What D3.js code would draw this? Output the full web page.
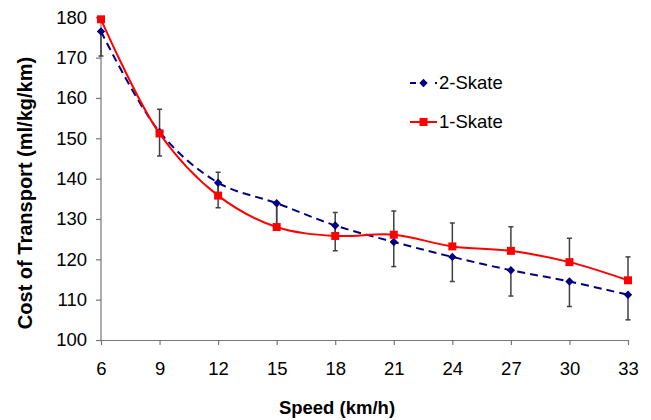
<!DOCTYPE html>
<html>
<head>
<meta charset="utf-8">
<script src="https://cdn.jsdelivr.net/npm/d3@7"></script>
<style>
  body { margin: 0; background: #fff; }
  svg text { font-family: "Liberation Sans", Arial, sans-serif; fill: #000; }
</style>
</head>
<body>
<svg id="chart" width="651" height="420"></svg>
<script>
// speeds (km/h) on the category axis
var speeds = [6, 9, 12, 15, 18, 21, 24, 27, 30, 33];
// cost of transport, ml/kg/km
var twoSkate = [176.5, 151.6, 139.0, 133.9, 128.4, 124.3, 120.6, 117.3, 114.5, 111.2];
var oneSkate = [179.5, 151.2, 135.8, 128.0, 125.8, 126.1, 123.2, 122.1, 119.3, 114.8];
// error bar lengths (2-Skate drawn down, 1-Skate drawn up)
var twoSkateErr = [6.1, 6.0, 6.2, 6.0, 6.3, 6.1, 6.1, 6.4, 6.2, 6.2];
var oneSkateErr = [6.0, 6.0, 5.8, 5.8, 5.8, 5.9, 5.8, 6.0, 5.9, 5.8];
var yTicks = [100, 110, 120, 130, 140, 150, 160, 170, 180];

var svg = d3.select("#chart");

var x = d3.scalePoint().domain(speeds).range([101, 628]);
var y = d3.scaleLinear().domain([100, 180]).range([340, 17.3]);

svg.append("defs").append("clipPath").attr("id", "plot")
  .append("rect").attr("x", 90).attr("y", y(180)).attr("width", 560).attr("height", y(100) - y(180));

// axes
var yAxis = svg.append("g").attr("transform", "translate(101,0)")
  .call(d3.axisLeft(y).tickValues(yTicks).tickSize(5).tickPadding(9));
var xAxis = svg.append("g").attr("transform", "translate(0,340)")
  .call(d3.axisBottom(x).tickSize(5).tickPadding(17).tickSizeOuter(0));

[yAxis, xAxis].forEach(function(ax){
  ax.select(".domain").attr("stroke", "#777").attr("stroke-width", 1.2);
  ax.selectAll(".tick line").attr("stroke", "#777").attr("stroke-width", 1.2);
  ax.selectAll(".tick text").attr("font-size", 18.5)
    .attr("font-family", "Liberation Sans, Arial, sans-serif").attr("fill", "#000");
});
yAxis.select(".domain").attr("d", "M-5," + y(180) + "H0V" + y(100));

// titles
svg.append("text").attr("x", 337).attr("y", 414).attr("text-anchor", "middle")
  .attr("font-size", 18.5).attr("font-weight", "bold").text("Speed (km/h)");
svg.append("text").attr("transform", "translate(32,193) rotate(-90)").attr("text-anchor", "middle")
  .attr("font-size", 20).attr("font-weight", "bold").text("Cost of Transport (ml/kg/km)");

var plot = svg.append("g").attr("clip-path", "url(#plot)");

// error bars
function errBars(vals, errs, dir) {
  var g = plot.append("g").attr("stroke", "#404040").attr("stroke-width", 1.5);
  speeds.forEach(function(s, i){
    var cx = x(s), y0 = y(vals[i]), y1 = y(vals[i] + dir * errs[i]);
    g.append("line").attr("x1", cx).attr("x2", cx).attr("y1", y0).attr("y2", y1);
    g.append("line").attr("x1", cx - 2.5).attr("x2", cx + 2.5).attr("y1", y1).attr("y2", y1);
  });
}
errBars(twoSkate, twoSkateErr, -1);
errBars(oneSkate, oneSkateErr, 1);

var line = d3.line().x(function(d, i){ return x(speeds[i]); }).y(function(d){ return y(d); })
  .curve(d3.curveCatmullRom.alpha(0.5));

plot.append("path").datum(twoSkate).attr("d", line).attr("fill", "none")
  .attr("stroke", "#000080").attr("stroke-width", 2).attr("stroke-dasharray", "8,5");
plot.append("path").datum(oneSkate).attr("d", line).attr("fill", "none")
  .attr("stroke", "#ff0000").attr("stroke-width", 2);

var diamond = "M0,-4.2L4.2,0L0,4.2L-4.2,0Z";
svg.append("g").selectAll("path").data(twoSkate).join("path")
  .attr("d", diamond)
  .attr("transform", function(d, i){ return "translate(" + x(speeds[i]) + "," + y(d) + ")"; })
  .attr("fill", "#000080");

svg.append("g").selectAll("rect").data(oneSkate).join("rect")
  .attr("x", function(d, i){ return x(speeds[i]) - 4; })
  .attr("y", function(d){ return y(d) - 4; })
  .attr("width", 8).attr("height", 8).attr("fill", "#ff0000");

// legend
var leg = svg.append("g");
leg.append("line").attr("x1", 410).attr("x2", 416).attr("y1", 83).attr("y2", 83)
  .attr("stroke", "#000080").attr("stroke-width", 2);
leg.append("line").attr("x1", 435).attr("x2", 437).attr("y1", 83).attr("y2", 83)
  .attr("stroke", "#000080").attr("stroke-width", 2);
leg.append("path").attr("d", diamond).attr("transform", "translate(423.5,83)").attr("fill", "#000080");
leg.append("text").attr("x", 439).attr("y", 83).attr("dy", "0.35em").attr("font-size", 18.5).text("2-Skate");

leg.append("line").attr("x1", 410).attr("x2", 437).attr("y1", 122).attr("y2", 122)
  .attr("stroke", "#ff0000").attr("stroke-width", 2);
leg.append("rect").attr("x", 419.5).attr("y", 118).attr("width", 8).attr("height", 8).attr("fill", "#ff0000");
leg.append("text").attr("x", 439).attr("y", 122).attr("dy", "0.35em").attr("font-size", 18.5).text("1-Skate");
</script>
</body>
</html>
